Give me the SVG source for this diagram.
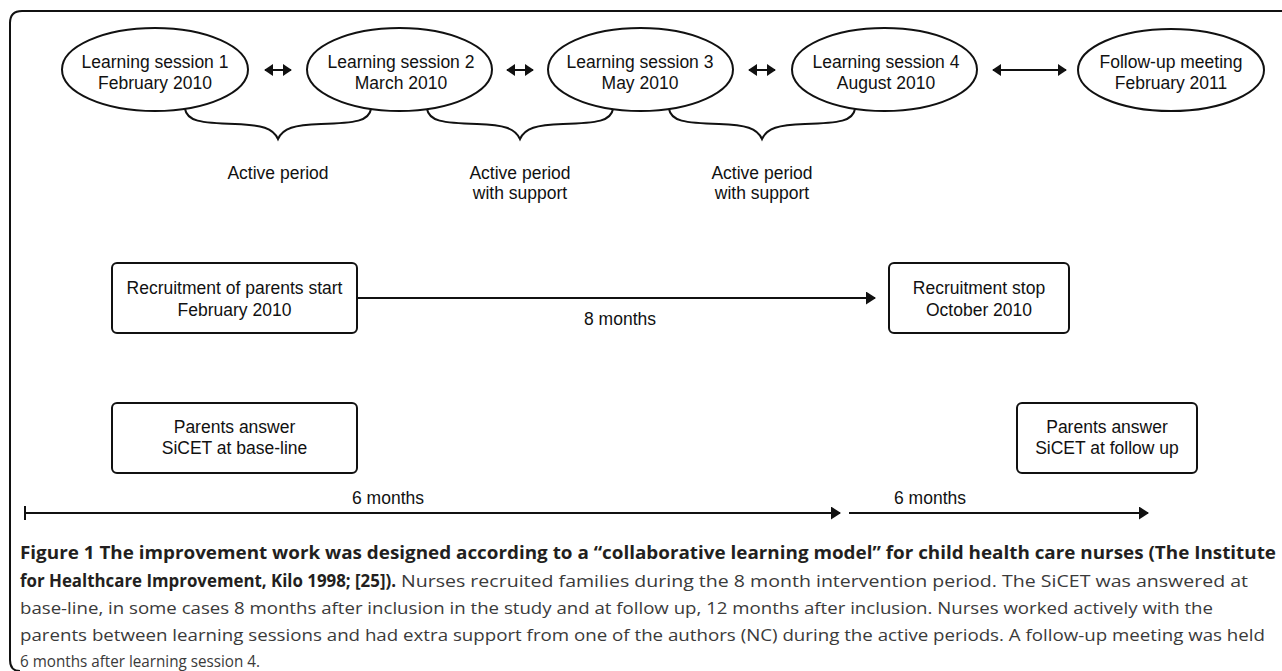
<svg xmlns="http://www.w3.org/2000/svg" width="1282" height="671" viewBox="0 0 1282 671">
<defs>
<style>
.shape{fill:#fff;stroke:#111;stroke-width:2}
.line{fill:none;stroke:#111;stroke-width:2}
.t{font-family:"Liberation Sans",Arial,sans-serif;font-size:17.5px;fill:#111;text-anchor:middle}
.cb{font-family:"Open Sans","Noto Sans",sans-serif;font-size:17px;font-weight:bold;fill:#231f20}
.cr{font-family:"Open Sans","Noto Sans",sans-serif;font-size:17px;fill:#3a3a3a}
</style>
<marker id="ah" viewBox="0 0 10 12" refX="9" refY="6" markerWidth="5" markerHeight="6.5" preserveAspectRatio="none" orient="auto-start-reverse" markerUnits="strokeWidth">
<path d="M0,0 L10,6 L0,12 z" fill="#111"/>
</marker>
<marker id="ahs" viewBox="0 0 10 12" refX="9" refY="6" markerWidth="4.5" markerHeight="6" preserveAspectRatio="none" orient="auto-start-reverse" markerUnits="strokeWidth">
<path d="M0,0 L10,6 L0,12 z" fill="#111"/>
</marker>
</defs>
<rect width="1282" height="671" fill="#fff"/>
<path class="line" d="M1282,11 H22 Q10,11 10,23 V660 Q10,671 20,671" stroke-width="1.6"/>

<g id="ls1"><ellipse class="shape" cx="155" cy="69.5" rx="93" ry="41.5"/><text class="t" x="155" y="68">Learning session 1</text><text class="t" x="155" y="89">February 2010</text></g>
<g id="ls2"><ellipse class="shape" cx="399.5" cy="69.5" rx="92.5" ry="41.5"/><text class="t" x="401" y="68">Learning session 2</text><text class="t" x="401" y="89">March 2010</text></g>
<g id="ls3"><ellipse class="shape" cx="640.5" cy="69.5" rx="92.5" ry="41.5"/><text class="t" x="640" y="68">Learning session 3</text><text class="t" x="640" y="89">May 2010</text></g>
<g id="ls4"><ellipse class="shape" cx="884.5" cy="69.5" rx="92.5" ry="41.5"/><text class="t" x="886" y="68">Learning session 4</text><text class="t" x="886" y="89">August 2010</text></g>
<g id="fu"><ellipse class="shape" cx="1171" cy="70" rx="93" ry="41"/><text class="t" x="1171" y="68">Follow-up meeting</text><text class="t" x="1171" y="89">February 2011</text></g>

<g id="braces">
<path class="line" d="M185,109 C187,121 200,123 235,124 C262,125 273,128 278,139 C283,128 294,125 321,124 C356,123 369,121 371,109"/>
<path class="line" d="M427,109 C429,121 442,123 477,124 C504,125 515,128 520,139 C525,128 536,125 563,124 C598,123 611,121 613,109"/>
<path class="line" d="M669,109 C671,121 684,123 719,124 C746,125 757,128 762,139 C767,128 778,125 805,124 C840,123 853,121 855,109"/>
</g>
<g id="period-labels">
<text class="t" x="278" y="179">Active period</text>
<text class="t" x="520" y="179">Active period</text>
<text class="t" x="520" y="199">with support</text>
<text class="t" x="762" y="179">Active period</text>
<text class="t" x="762" y="199">with support</text>
</g>

<g id="rec-start"><rect class="shape" x="112" y="263" width="245" height="70" rx="5"/><text class="t" x="234.5" y="294">Recruitment of parents start</text><text class="t" x="234.5" y="316">February 2010</text></g>
<g id="rec-stop"><rect class="shape" x="889" y="263" width="180" height="70" rx="5"/><text class="t" x="979" y="294">Recruitment stop</text><text class="t" x="979" y="316">October 2010</text></g>
<g id="baseline"><rect class="shape" x="112" y="403" width="245" height="70" rx="5"/><text class="t" x="234.5" y="433">Parents answer</text><text class="t" x="234.5" y="454">SiCET at base-line</text></g>
<g id="followup"><rect class="shape" x="1017" y="403" width="180" height="70" rx="5"/><text class="t" x="1107" y="433">Parents answer</text><text class="t" x="1107" y="454">SiCET at follow up</text></g>

<g id="connectors">
<line class="line" x1="265" y1="70" x2="291" y2="70" marker-start="url(#ahs)" marker-end="url(#ahs)"/>
<line class="line" x1="507" y1="70" x2="533" y2="70" marker-start="url(#ahs)" marker-end="url(#ahs)"/>
<line class="line" x1="749" y1="70" x2="775" y2="70" marker-start="url(#ahs)" marker-end="url(#ahs)"/>
<line class="line" x1="993" y1="70" x2="1066" y2="70" marker-start="url(#ahs)" marker-end="url(#ahs)"/>
<line class="line" x1="357" y1="298" x2="875" y2="298" marker-end="url(#ah)"/>
<line class="line" x1="25" y1="506" x2="25" y2="520"/>
<line class="line" x1="25" y1="513" x2="840" y2="513" marker-end="url(#ah)"/>
<line class="line" x1="849" y1="513" x2="1148" y2="513" marker-end="url(#ah)"/>
</g>
<g id="connector-labels">
<text class="t" x="620" y="325">8 months</text>
<text class="t" x="388" y="504">6 months</text>
<text class="t" x="930" y="504">6 months</text>
</g>

<g id="caption">
<text class="cb" x="20" y="559" textLength="1256" lengthAdjust="spacingAndGlyphs">Figure 1 The improvement work was designed according to a “collaborative learning model” for child health care nurses (The Institute</text>
<text class="cb" x="20" y="587" textLength="376" lengthAdjust="spacingAndGlyphs">for Healthcare Improvement, Kilo 1998; [25]).</text>
<text class="cr" x="401" y="587" textLength="847" lengthAdjust="spacingAndGlyphs">Nurses recruited families during the 8 month intervention period. The SiCET was answered at</text>
<text class="cr" x="20" y="614" textLength="1193" lengthAdjust="spacingAndGlyphs">base-line, in some cases 8 months after inclusion in the study and at follow up, 12 months after inclusion. Nurses worked actively with the</text>
<text class="cr" x="20" y="641" textLength="1245" lengthAdjust="spacingAndGlyphs">parents between learning sessions and had extra support from one of the authors (NC) during the active periods. A follow-up meeting was held</text>
<text class="cr" x="20" y="667" textLength="240" lengthAdjust="spacingAndGlyphs">6 months after learning session 4.</text>
</g>
</svg>
